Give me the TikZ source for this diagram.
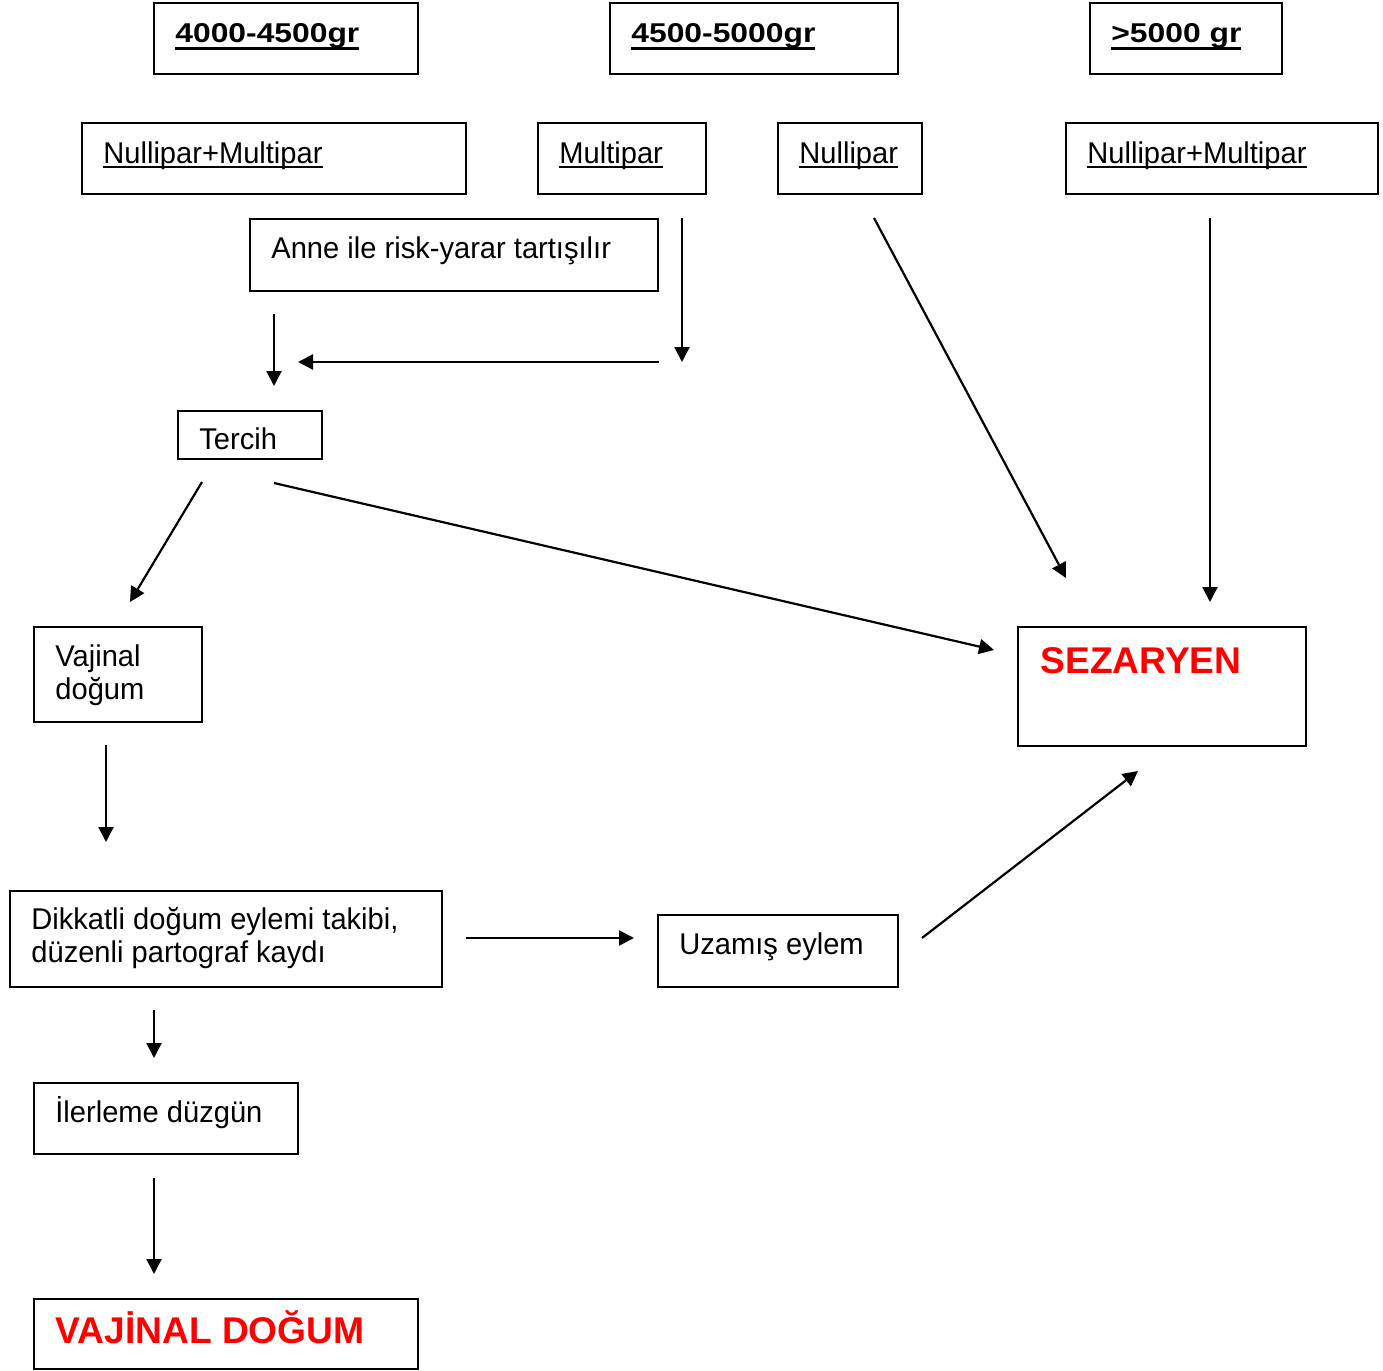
\documentclass[tikz,border=0pt]{standalone}
\usepackage{fontspec}
\setmainfont{Liberation Sans}
\newfontfamily\regfont[FakeStretch=0.97]{Liberation Sans}
\newfontfamily\hdrfont[FakeStretch=1.17]{Liberation Sans}
\usetikzlibrary{arrows.meta,fit}

% underlined text: #1 gap below baseline, #2 rule thickness, #3 text
\newcommand\ulin[3]{\setbox0=\hbox{#3}\rlap{\rule[\dimexpr-#1-#2\relax]{\wd0}{#2}}\box0}
\newcommand\hdr[1]{{\hdrfont\bfseries\fontsize{13.6pt}{15pt}\selectfont\ulin{2.4pt}{1.8pt}{#1}}}
\newcommand\reg{\regfont\fontsize{15pt}{16.5pt}\selectfont}
\newcommand\regul[1]{{\reg\ulin{1.4pt}{1.2pt}{#1}}}
\newcommand\redtxt[1]{{\bfseries\fontsize{18.6pt}{21pt}\selectfont\color{red}#1}}
\newcommand\twolines[2]{\vtop{\reg\baselineskip=16.75pt\hbox{#1}\hbox{#2}}}

\tikzset{
  box/.style={draw, line width=1pt, inner sep=0pt},
  txt/.style={anchor=base west, inner sep=0pt},
  conn/.style={line width=1.1pt, -{Triangle[length=7.5pt,width=7.5pt]}}
}

\begin{document}
\begin{tikzpicture}[x=0.5pt, y=-0.5pt]
\useasboundingbox (0,0) rectangle (1383,1371);

% weight classes
\node[box, fit={(154,3)(418,74)}] (h1) {};
\node[txt] (h1t) at (175,42) {\hdr{4000-4500gr}};
\node[box, fit={(610,3)(898,74)}] (h2) {};
\node[txt] (h2t) at (631,42) {\hdr{4500-5000gr}};
\node[box, fit={(1090,3)(1282,74)}] (h3) {};
\node[txt] (h3t) at (1111,42) {\hdr{>5000 gr}};

% parity
\node[box, fit={(82,123)(466,194)}] (nm1) {};
\node[txt] (nm1t) at (103,163) {\regul{Nullipar+Multipar}};
\node[box, fit={(538,123)(706,194)}] (mp) {};
\node[txt] (mpt) at (559,163) {\regul{Multipar}};
\node[box, fit={(778,123)(922,194)}] (np) {};
\node[txt] (npt) at (799,163) {\regul{Nullipar}};
\node[box, fit={(1066,123)(1378,194)}] (nm2) {};
\node[txt] (nm2t) at (1087,163) {\regul{Nullipar+Multipar}};

% discussion and choice
\node[box, fit={(250,219)(658,291)}] (anne) {};
\node[txt] (annet) at (271,258) {\reg Anne ile risk-yarar tartışılır};
\node[box, fit={(178,411)(322,459)}] (tercih) {};
\node[txt] (tercht) at (199,449) {\reg Tercih};

\node[box, fit={(34,627)(202,722)}] (vaj) {};
\node[txt] (vajt) at (55,666) {\twolines{Vajinal}{doğum}};
\node[box, fit={(1018,627)(1306,746)}] (sez) {};
\node[txt] (sezt) at (1040,673) {\redtxt{SEZARYEN}};

\node[box, fit={(10,891)(442,987)}] (dik) {};
\node[txt] (dikt) at (31,929) {\twolines{Dikkatli doğum eylemi takibi,}{düzenli partograf kaydı}};
\node[box, fit={(658,915)(898,987)}] (uza) {};
\node[txt] (uzat) at (679,954) {\reg Uzamış eylem};

\node[box, fit={(34,1083)(298,1154)}] (ile) {};
\node[txt] (ilet) at (55,1122) {\reg İlerleme düzgün};
\node[box, fit={(34,1299)(418,1369)}] (vd) {};
\node[txt] (vdt) at (55,1343) {\redtxt{VAJİNAL DOĞUM}};

% arrow end points
\coordinate (a1s) at (274,314);  \coordinate (a1e) at (274,386);
\coordinate (a2s) at (659,362);  \coordinate (a2e) at (298,362);
\coordinate (a3s) at (682,218);  \coordinate (a3e) at (682,362);
\coordinate (a4s) at (874,218);  \coordinate (a4e) at (1066,578);
\coordinate (a5s) at (1210,218); \coordinate (a5e) at (1210,602);
\coordinate (a6s) at (202,482);  \coordinate (a6e) at (130,602);
\coordinate (a7s) at (274,483);  \coordinate (a7e) at (994,650);
\coordinate (a8s) at (106,745);  \coordinate (a8e) at (106,842);
\coordinate (a9s) at (466,938);  \coordinate (a9e) at (634,938);
\coordinate (a10s) at (922,938); \coordinate (a10e) at (1138,771);
\coordinate (a11s) at (154,1010); \coordinate (a11e) at (154,1058);
\coordinate (a12s) at (154,1178); \coordinate (a12e) at (154,1274);

\foreach \i in {1,...,12} \draw[conn] (a\i s) -- (a\i e);
\end{tikzpicture}
\end{document}
